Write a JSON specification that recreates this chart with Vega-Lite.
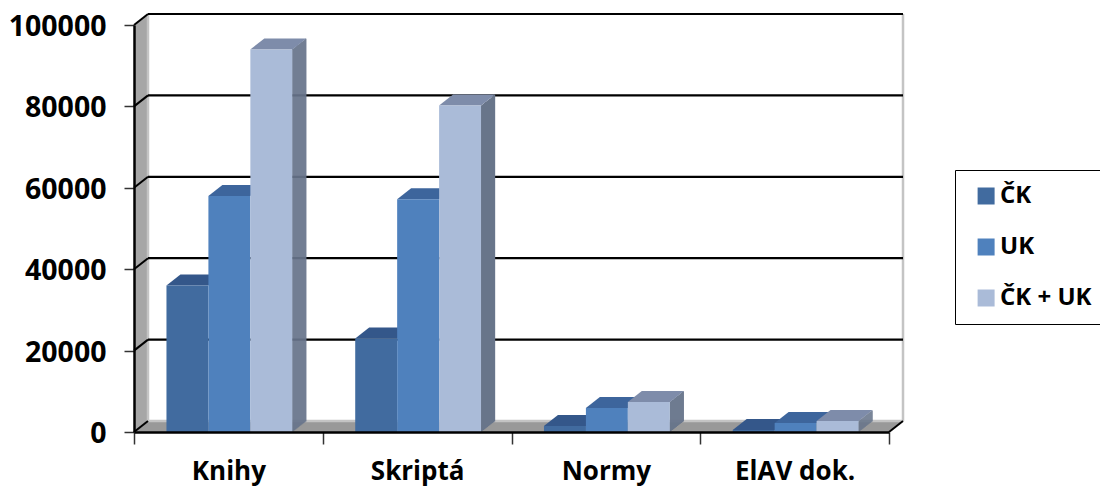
{
"$schema":"https://vega.github.io/schema/vega-lite/v6.json",
"width":755,"height":407,
"autosize":{"type":"none"},
"padding":{"left":134,"top":25,"right":211,"bottom":54},
"background":"white",
"config":{"view":{"stroke":null},"font":"Open Sans"},
"datasets":{
"bars":[
{"category":"Knihy","series":"ČK","value":36000},
{"category":"Knihy","series":"UK","value":58000},
{"category":"Knihy","series":"ČK + UK","value":94000},
{"category":"Skriptá","series":"ČK","value":23000},
{"category":"Skriptá","series":"UK","value":57200},
{"category":"Skriptá","series":"ČK + UK","value":80200},
{"category":"Normy","series":"ČK","value":1500},
{"category":"Normy","series":"UK","value":5900},
{"category":"Normy","series":"ČK + UK","value":7400},
{"category":"ElAV dok.","series":"ČK","value":500},
{"category":"ElAV dok.","series":"UK","value":2200},
{"category":"ElAV dok.","series":"ČK + UK","value":2700}
],
"origin":[{"category":"Knihy","value":0}],
"ticks":[{"category":"Knihy","value":0},{"category":"Knihy","value":20000},{"category":"Knihy","value":40000},{"category":"Knihy","value":60000},{"category":"Knihy","value":80000},{"category":"Knihy","value":100000}],
"grid":[{"category":"Knihy","value":20000},{"category":"Knihy","value":40000},{"category":"Knihy","value":60000},{"category":"Knihy","value":80000},{"category":"Knihy","value":100000}]
},
"encoding":{
"x":{"field":"category","type":"nominal","title":null,"scale":{"domain":["Knihy","Skriptá","Normy","ElAV dok."],"paddingInner":0,"paddingOuter":0},
"axis":{"labelAngle":0,"labelFont":"Open Sans","labelFontWeight":"bold","labelFontSize":26,"labelColor":"#000","labelPadding":14,"tickBand":"extent","tickSize":12,"tickColor":"#333","tickWidth":1.5,"domainColor":"#000","domainWidth":2.5,"zindex":1}},
"y":{"field":"value","type":"quantitative","title":null,"scale":{"domain":[0,100000],"nice":false},
"axis":{"values":[0,20000,40000,60000,80000,100000],"format":"d","grid":false,"labelFont":"Open Sans","labelFontWeight":"bold","labelFontSize":28.5,"labelColor":"#000","labelPadding":18,"labelOffset":1.5,"tickSize":10,"tickColor":"#333","tickWidth":1.5,"domainColor":"#000","domainWidth":2.5,"zindex":1}}
},
"resolve":{"scale":{"color":"independent"}},
"layer":[
{"data":{"name":"origin"},"mark":{"type":"point","shape":"M0,0L14,-11L14,-418L0,-407Z","size":4,"filled":true,"opacity":1,"fill":"#a6a6a6","strokeWidth":0},"encoding":{"x":{"field":"category","type":"nominal","bandPosition":0}}},
{"data":{"name":"origin"},"mark":{"type":"point","shape":"M0,0L755,0L769,-11L14,-11Z","size":4,"filled":true,"opacity":1,"fill":"#999999","strokeWidth":0},"encoding":{"x":{"field":"category","type":"nominal","bandPosition":0}}},
{"data":{"name":"origin"},"mark":{"type":"point","shape":"M14,-11L14,-418M769,-11L769,-418M14,-11L769,-11","size":4,"filled":false,"opacity":1,"stroke":"#c4c4c4","strokeWidth":2.5},"encoding":{"x":{"field":"category","type":"nominal","bandPosition":0}}},
{"data":{"name":"grid"},"mark":{"type":"point","shape":"M14,-11L769,-11","size":4,"filled":false,"opacity":1,"stroke":"#000","strokeWidth":2.2},"encoding":{"x":{"field":"category","type":"nominal","bandPosition":0}}},
{"data":{"name":"ticks"},"mark":{"type":"point","shape":"M0,0L14,-11","size":4,"filled":false,"opacity":1,"stroke":"#000","strokeWidth":2},"encoding":{"x":{"field":"category","type":"nominal","bandPosition":0}}},
{"data":{"name":"origin"},"mark":{"type":"point","shape":"M755,0L769,-11","size":4,"filled":false,"opacity":1,"stroke":"#000","strokeWidth":2},"encoding":{"x":{"field":"category","type":"nominal","bandPosition":0}}},
{"data":{"name":"bars"},"transform":[{"filter":"datum.series === 'ČK + UK'"}],"mark":{"type":"rule","color":"#68758b","strokeWidth":1.3,"xOffset":64.4,"yOffset":-0.39,"y2Offset":-0.39},"encoding":{"y2":{"datum":0}}},
{"data":{"name":"bars"},"transform":[{"filter":"datum.series === 'ČK + UK'"}],"mark":{"type":"rule","color":"#68758b","strokeWidth":1.3,"xOffset":65.4,"yOffset":-1.18,"y2Offset":-1.18},"encoding":{"y2":{"datum":0}}},
{"data":{"name":"bars"},"transform":[{"filter":"datum.series === 'ČK + UK'"}],"mark":{"type":"rule","color":"#68758b","strokeWidth":1.3,"xOffset":66.4,"yOffset":-1.96,"y2Offset":-1.96},"encoding":{"y2":{"datum":0}}},
{"data":{"name":"bars"},"transform":[{"filter":"datum.series === 'ČK + UK'"}],"mark":{"type":"rule","color":"#68758b","strokeWidth":1.3,"xOffset":67.4,"yOffset":-2.75,"y2Offset":-2.75},"encoding":{"y2":{"datum":0}}},
{"data":{"name":"bars"},"transform":[{"filter":"datum.series === 'ČK + UK'"}],"mark":{"type":"rule","color":"#68758b","strokeWidth":1.3,"xOffset":68.4,"yOffset":-3.54,"y2Offset":-3.54},"encoding":{"y2":{"datum":0}}},
{"data":{"name":"bars"},"transform":[{"filter":"datum.series === 'ČK + UK'"}],"mark":{"type":"rule","color":"#68758b","strokeWidth":1.3,"xOffset":69.4,"yOffset":-4.32,"y2Offset":-4.32},"encoding":{"y2":{"datum":0}}},
{"data":{"name":"bars"},"transform":[{"filter":"datum.series === 'ČK + UK'"}],"mark":{"type":"rule","color":"#68758b","strokeWidth":1.3,"xOffset":70.4,"yOffset":-5.11,"y2Offset":-5.11},"encoding":{"y2":{"datum":0}}},
{"data":{"name":"bars"},"transform":[{"filter":"datum.series === 'ČK + UK'"}],"mark":{"type":"rule","color":"#68758b","strokeWidth":1.3,"xOffset":71.4,"yOffset":-5.89,"y2Offset":-5.89},"encoding":{"y2":{"datum":0}}},
{"data":{"name":"bars"},"transform":[{"filter":"datum.series === 'ČK + UK'"}],"mark":{"type":"rule","color":"#68758b","strokeWidth":1.3,"xOffset":72.4,"yOffset":-6.68,"y2Offset":-6.68},"encoding":{"y2":{"datum":0}}},
{"data":{"name":"bars"},"transform":[{"filter":"datum.series === 'ČK + UK'"}],"mark":{"type":"rule","color":"#68758b","strokeWidth":1.3,"xOffset":73.4,"yOffset":-7.46,"y2Offset":-7.46},"encoding":{"y2":{"datum":0}}},
{"data":{"name":"bars"},"transform":[{"filter":"datum.series === 'ČK + UK'"}],"mark":{"type":"rule","color":"#68758b","strokeWidth":1.3,"xOffset":74.4,"yOffset":-8.25,"y2Offset":-8.25},"encoding":{"y2":{"datum":0}}},
{"data":{"name":"bars"},"transform":[{"filter":"datum.series === 'ČK + UK'"}],"mark":{"type":"rule","color":"#68758b","strokeWidth":1.3,"xOffset":75.4,"yOffset":-9.04,"y2Offset":-9.04},"encoding":{"y2":{"datum":0}}},
{"data":{"name":"bars"},"transform":[{"filter":"datum.series === 'ČK + UK'"}],"mark":{"type":"rule","color":"#68758b","strokeWidth":1.3,"xOffset":76.4,"yOffset":-9.82,"y2Offset":-9.82},"encoding":{"y2":{"datum":0}}},
{"data":{"name":"bars"},"transform":[{"filter":"datum.series === 'ČK + UK'"}],"mark":{"type":"rule","color":"#68758b","strokeWidth":1.3,"xOffset":77.4,"yOffset":-10.61,"y2Offset":-10.61},"encoding":{"y2":{"datum":0}}},
{"data":{"name":"bars"},"mark":{"type":"point","shape":"M-21,0L-7,-11L35,-11L21,0Z","size":4,"filled":true,"opacity":1,"strokeWidth":0},
"encoding":{"xOffset":{"field":"series","type":"nominal","scale":{"domain":["ČK","UK","ČK + UK"],"paddingInner":0,"paddingOuter":0.75,"align":0.516}},
"color":{"field":"series","type":"nominal","legend":null,"scale":{"domain":["ČK","UK","ČK + UK"],"range":["#34578a","#3d659c","#7e8caa"]}}}},
{"data":{"name":"bars"},"mark":{"type":"bar"},
"encoding":{"xOffset":{"field":"series","type":"nominal","scale":{"domain":["ČK","UK","ČK + UK"],"paddingInner":0,"paddingOuter":0.75,"align":0.516}},
"color":{"field":"series","type":"nominal","scale":{"domain":["ČK","UK","ČK + UK"],"range":["#416b9f","#4f81bd","#aabbd8"]},
"legend":{"title":null,"orient":"none","legendX":821,"legendY":145,"fillColor":"#fff","strokeColor":"#000","symbolType":"M-0.4,-1H1.6V1H-0.4Z","symbolSize":289,"symbolStrokeWidth":0,"labelFont":"Open Sans","labelFontWeight":"bold","labelFontSize":24,"labelColor":"#000","labelOffset":7,"rowPadding":27,"padding":14}}}}
]
}
